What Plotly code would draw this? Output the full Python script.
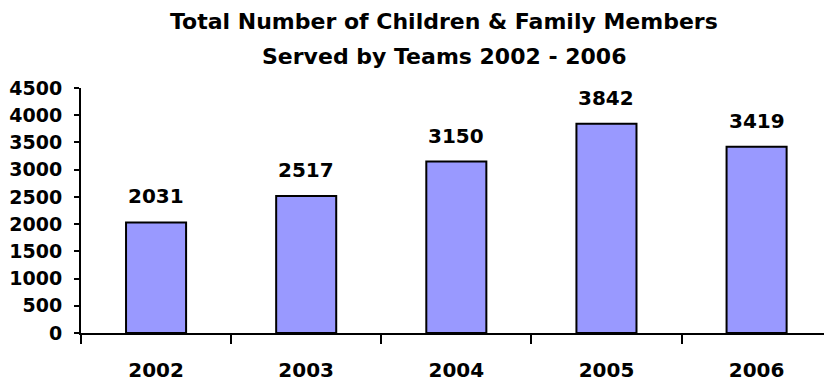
import plotly.graph_objects as go

# Chart data
years = ["2002", "2003", "2004", "2005", "2006"]
served = [2031, 2517, 3150, 3842, 3419]
y_ticks = [0, 500, 1000, 1500, 2000, 2500, 3000, 3500, 4000, 4500]
title_lines = ["Total Number of Children & Family Members",
               "Served by Teams 2002 - 2006"]

FONT = "DejaVu Sans, Verdana, Arial, sans-serif"
BAR_FILL = "#9999FF"

fig = go.Figure()
fig.add_trace(go.Bar(
    x=years,
    y=served,
    marker=dict(color=BAR_FILL, line=dict(color="black", width=2)),
    hoverinfo="x+y",
))

# Value labels above each bar (x given as category index)
for i, v in enumerate(served):
    fig.add_annotation(
        x=i, y=v, xref="x", yref="y",
        text=f"<b>{v}</b>", showarrow=False,
        yanchor="bottom", yshift=12,
        font=dict(family=FONT, size=20, color="black"),
    )

# Two-line title
for line, py in zip(title_lines, [1.271, 1.128]):
    fig.add_annotation(
        x=0.4886, y=py, xref="paper", yref="paper",
        text=f"<b>{line}</b>", showarrow=False,
        xanchor="center", yanchor="middle",
        font=dict(family=FONT, size=22, color="black"),
    )

fig.update_layout(
    width=824, height=381,
    margin=dict(l=81, r=0, t=88, b=48),
    paper_bgcolor="white",
    plot_bgcolor="white",
    bargap=0.6,
    showlegend=False,
    font=dict(family=FONT, color="black"),
)

fig.update_xaxes(
    type="category",
    range=[-0.5, 4.449],
    showline=True, linecolor="black", linewidth=2,
    ticks="outside", tickson="boundaries", ticklen=9, tickwidth=2, tickcolor="black",
    tickfont=dict(family=FONT, size=20, color="black"),
    tickvals=years, ticktext=[f"<b>{y}</b>" for y in years],
    ticklabelstandoff=18,
    showgrid=False, zeroline=False,
)

fig.update_yaxes(
    range=[0, 4500],
    tickvals=y_ticks, ticktext=[f"<b>{t}</b>" for t in y_ticks],
    showline=True, linecolor="black", linewidth=2,
    ticks="outside", ticklen=5, tickwidth=2, tickcolor="black",
    tickfont=dict(family=FONT, size=19, color="black"),
    ticklabelstandoff=8,
    showgrid=False, zeroline=False,
)

fig.write_html("out.html")
